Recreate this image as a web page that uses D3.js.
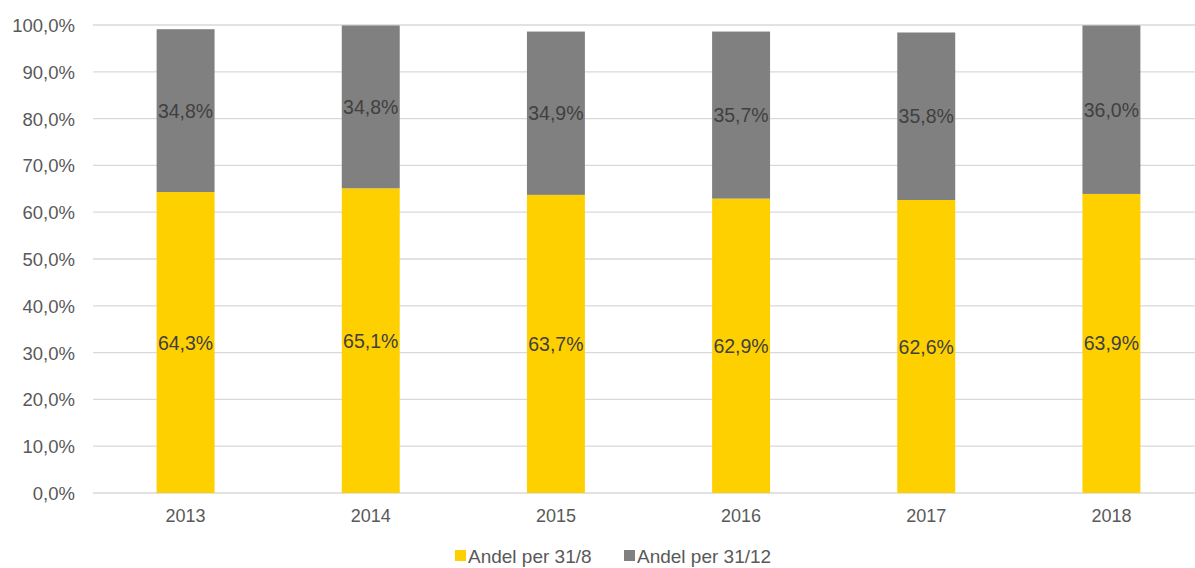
<!DOCTYPE html>
<html>
<head>
<meta charset="utf-8">
<script src="https://cdn.jsdelivr.net/npm/d3@7"></script>
<style>
  body { margin: 0; background: #fff; }
  text { font-family: "Liberation Sans", Arial, sans-serif; }
</style>
</head>
<body>
<script>
var years = ["2013", "2014", "2015", "2016", "2017", "2018"];
var andel318 = [64.3, 65.1, 63.7, 62.9, 62.6, 63.9];
var andel3112 = [34.8, 34.8, 34.9, 35.7, 35.8, 36.0];
var yTicks = [0, 10, 20, 30, 40, 50, 60, 70, 80, 90, 100];
var seriesNames = ["Andel per 31/8", "Andel per 31/12"];
var colors = ["#FFD000", "#808080"];

var w = 1195, h = 568;
var svg = d3.select("body").append("svg").attr("width", w).attr("height", h);

var x = d3.scaleBand().domain(years).range([93, 1204]).paddingInner(0.687).paddingOuter(0.3435);
var y = d3.scaleLinear().domain([0, 100]).range([493, 25]);

function fmt(v) { return v.toFixed(1).replace(".", ",") + "%"; }

// gridlines
svg.selectAll(".grid").data(yTicks).enter().append("line")
  .attr("x1", 93).attr("x2", w)
  .attr("y1", function(d) { return y(d); })
  .attr("y2", function(d) { return y(d); })
  .attr("stroke", "#d9d9d9").attr("stroke-width", 1.3);

// y labels
svg.selectAll(".ylab").data(yTicks).enter().append("text")
  .attr("x", 75).attr("y", function(d) { return y(d) + 7; })
  .attr("text-anchor", "end").attr("font-size", 18.5).attr("fill", "#595959")
  .text(function(d) { return fmt(d); });

// x labels
svg.selectAll(".xlab").data(years).enter().append("text")
  .attr("x", function(d) { return x(d) + x.bandwidth() / 2; })
  .attr("y", 522).attr("text-anchor", "middle").attr("font-size", 18).attr("fill", "#595959")
  .text(function(d) { return d; });

var stacked = years.map(function(yr, i) {
  return [
    { year: yr, y0: 0, y1: andel318[i], s: 0 },
    { year: yr, y0: andel318[i], y1: andel318[i] + andel3112[i], s: 1 }
  ];
});
var segs = [].concat.apply([], stacked);

svg.selectAll(".bar").data(segs).enter().append("rect")
  .attr("x", function(d) { return x(d.year); })
  .attr("width", x.bandwidth())
  .attr("y", function(d) { return y(d.y1); })
  .attr("height", function(d) { return y(d.y0) - y(d.y1); })
  .attr("fill", function(d) { return colors[d.s]; });

svg.selectAll(".vlab").data(segs).enter().append("text")
  .attr("x", function(d) { return x(d.year) + x.bandwidth() / 2; })
  .attr("y", function(d) { return y((d.y0 + d.y1) / 2) + 7; })
  .attr("text-anchor", "middle").attr("font-size", 19.5).attr("fill", "#404040")
  .text(function(d) { return fmt(d.y1 - d.y0); });

// legend
var legX = [455, 624];
var leg = svg.selectAll(".leg").data(seriesNames).enter().append("g")
  .attr("transform", function(d, i) { return "translate(" + legX[i] + ",550)"; });
leg.append("rect").attr("width", 11).attr("height", 11)
  .attr("fill", function(d, i) { return colors[i]; });
leg.append("text").attr("x", 13).attr("y", 13).attr("font-size", 19).attr("fill", "#595959")
  .text(function(d) { return d; });
</script>
</body>
</html>
